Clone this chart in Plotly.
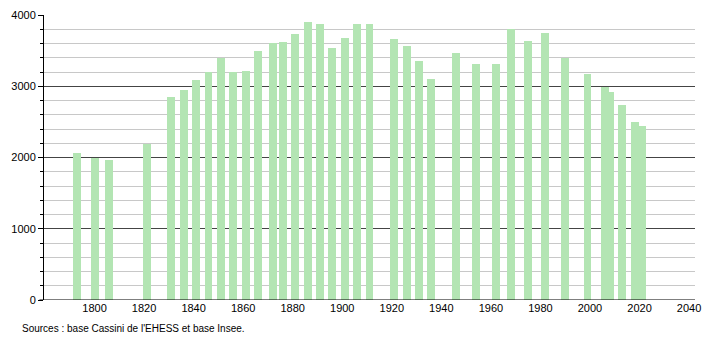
import plotly.graph_objects as go

years = [1793, 1800, 1806, 1821, 1831, 1836, 1841, 1846, 1851, 1856, 1861, 1866,
         1872, 1876, 1881, 1886, 1891, 1896, 1901, 1906, 1911, 1921, 1926, 1931,
         1936, 1946, 1954, 1962, 1968, 1975, 1982, 1990, 1999, 2006, 2008, 2013,
         2018, 2021]
population = [2060, 2000, 1964, 2190, 2850, 2946, 3084, 3205, 3398, 3205, 3213, 3500,
              3605, 3624, 3734, 3900, 3877, 3531, 3684, 3880, 3880, 3665, 3568, 3361,
              3107, 3471, 3306, 3306, 3800, 3638, 3748, 3402, 3167, 2988, 2918, 2739,
              2494, 2448]
x_ticks = [1800, 1820, 1840, 1860, 1880, 1900, 1920, 1940, 1960, 1980, 2000, 2020, 2040]
y_ticks = [0, 1000, 2000, 3000, 4000]
source_text = "Sources : base Cassini de l'EHESS et base Insee."

fig = go.Figure()
fig.add_trace(go.Bar(
    x=years, y=population, width=3.2,
    marker=dict(color="#b3e5b3", line=dict(width=0)),
    hoverinfo="x+y",
))

font = dict(family="Liberation Sans, Arial, sans-serif", size=11, color="#000")
src_font = dict(family="Liberation Sans, Arial, sans-serif", size=10, color="#000")
fig.update_layout(
    width=710, height=340,
    margin=dict(l=44, r=9, t=11, b=40),
    paper_bgcolor="white", plot_bgcolor="white",
    showlegend=False, font=font, bargap=0,
    xaxis=dict(
        range=[1779.6, 2042.4], tickvals=x_ticks, ticktext=[str(v) for v in x_ticks],
        showgrid=False, zeroline=False, showline=False, ticks="",
        tickfont=font,
    ),
    yaxis=dict(
        range=[0, 4000], tickvals=y_ticks, ticktext=[str(v) for v in y_ticks],
        showgrid=True, gridcolor="#444", gridwidth=1,
        zeroline=False, showline=True, linecolor="#000", linewidth=1,
        ticks="outside", ticklen=5, tickcolor="#000", tickfont=font,
        minor=dict(dtick=200, showgrid=True, gridcolor="#c8c8c8", gridwidth=1,
                   ticks="outside", ticklen=3, tickcolor="#000"),
    ),
    shapes=[dict(type="line", xref="paper", yref="y", x0=-0.007, x1=1, y0=0, y1=0,
                 line=dict(color="#000", width=1.2), layer="above")],
    annotations=[dict(text=source_text, xref="paper", yref="paper", x=-0.037, y=-0.073,
                      xanchor="left", yanchor="top", showarrow=False, font=src_font)],
)

fig.write_html("out.html")
